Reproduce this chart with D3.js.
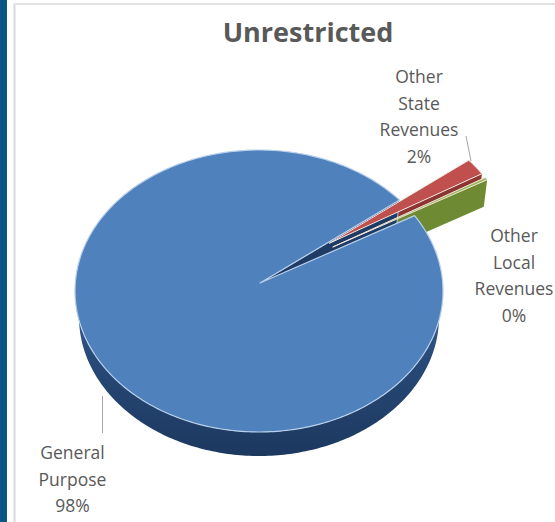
<!DOCTYPE html>
<html><head><meta charset="utf-8">
<script src="https://cdn.jsdelivr.net/npm/d3@7"></script>
<style>
html,body{margin:0;padding:0;background:#fff;}
svg{display:block;}
text{font-family:"Open Sans","Noto Sans",sans-serif;}
</style></head>
<body>
<svg id="chart" width="555" height="522"></svg>
<script>
// ---- data ----
const title = "Unrestricted";
const categories = ["General Purpose", "Other State Revenues", "Other Local Revenues"];
const labelLines = [["General", "Purpose"], ["Other", "State", "Revenues"], ["Other", "Local", "Revenues"]];
const values = [97.8, 1.9, 0.3];
const exploded = [false, true, true];
const topColors = ["#4f81bd", "#c0504d", "#9bbb59"];
const sideColors = ["#2b4e7e", "#8e3532", "#6e8b34"];

// ---- layout ----
const W = 555, H = 522;
const svg = d3.select("#chart");
const cx = 259, cy = 291, rx = 184, ry = 141, depth = 26;
const rxBottom = 180, ryBottom = 139;
const apexX = 260, apexY = 283;
const explodeFrac = 0.47;
const rad = Math.PI / 180;

// frame
svg.append("rect").attr("x", 0).attr("y", 0).attr("width", W).attr("height", H).attr("fill", "#fff");
svg.append("rect").attr("x", 0).attr("y", 0).attr("width", 7).attr("height", H).attr("fill", "#0b5587");
svg.append("line").attr("x1", 14.5).attr("x2", 14.5).attr("y1", 3).attr("y2", H).attr("stroke", "#d9d9d9").attr("stroke-width", 2);
svg.append("line").attr("x1", 14).attr("x2", W).attr("y1", 4).attr("y2", 4).attr("stroke", "#e3e3e3").attr("stroke-width", 2);

// title
svg.append("text").attr("x", 308).attr("y", 42).attr("text-anchor", "middle")
  .attr("font-size", 27).attr("font-weight", "bold").attr("fill", "#595959").text(title);

// pie angles (d3: 0 = 12 o'clock, clockwise)
const start = 57.7 * rad;
const pie = d3.pie().sort(null).value(d => d).startAngle(start).endAngle(start + 2 * Math.PI);
const arcs = pie(values).map((a, i) => {
  const p1 = a.startAngle - Math.PI / 2, p2 = a.endAngle - Math.PI / 2;
  const mid = (p1 + p2) / 2;
  const dx = exploded[i] ? explodeFrac * rx * Math.cos(mid) : 0;
  const dy = exploded[i] ? explodeFrac * ry * Math.sin(mid) : 0;
  return {i, p1, p2, dx, dy};
});

const line = d3.line();
function rim(p, s, z) {
  const ex = z > 0 ? rxBottom : rx, ey = z > 0 ? ryBottom : ry;
  return [cx + ex * Math.cos(p) + s.dx, cy + ey * Math.sin(p) + s.dy + z];
}
function apex(s, z) { return [apexX + s.dx, apexY + s.dy + z]; }
function arcPts(s, a, b, z) {
  const n = Math.max(2, Math.ceil(Math.abs(b - a) / rad));
  const pts = [];
  for (let k = 0; k <= n; k++) pts.push(rim(a + (b - a) * k / n, s, z));
  return pts;
}
function topPath(s) { return line([apex(s, 0), ...arcPts(s, s.p1, s.p2, 0)]) + "Z"; }
function radialWall(s, p) { return line([apex(s, 0), rim(p, s, 0), rim(p, s, depth), apex(s, depth)]) + "Z"; }
function outerWall(s) {
  const segs = [];
  for (let k = -1; k <= 1; k++) {
    const a = Math.max(s.p1, k * 2 * Math.PI), b = Math.min(s.p2, k * 2 * Math.PI + Math.PI);
    if (b > a) segs.push([a, b]);
  }
  return segs.map(([a, b]) => line([...arcPts(s, a, b, 0), ...arcPts(s, b, a, depth)]) + "Z");
}

const defs = svg.append("defs");
const g = defs.append("linearGradient").attr("id", "blueSide").attr("x1", 0).attr("y1", 0).attr("x2", 0).attr("y2", 1);
g.append("stop").attr("offset", "0%").attr("stop-color", "#3a6399");
g.append("stop").attr("offset", "40%").attr("stop-color", "#284a78");
g.append("stop").attr("offset", "100%").attr("stop-color", "#1c385f");

const pieG = svg.append("g");
const expl = arcs.filter(s => exploded[s.i]);
const main = arcs.filter(s => !exploded[s.i]);

// 1. walls of exploded slices
expl.forEach(s => {
  if (Math.cos(s.p2) > 0) pieG.append("path").attr("d", radialWall(s, s.p2)).attr("fill", sideColors[s.i]);
  if (Math.cos(s.p1) < 0) pieG.append("path").attr("d", radialWall(s, s.p1)).attr("fill", sideColors[s.i]);
  outerWall(s).forEach(d => pieG.append("path").attr("d", d).attr("fill", sideColors[s.i]));
});
// 2. walls of main slice
main.forEach(s => {
  if (Math.cos(s.p2) > 0) pieG.append("path").attr("d", radialWall(s, s.p2)).attr("fill", "#1f3c66")
    .attr("stroke", "#cfe0f3").attr("stroke-width", 0.8);
  outerWall(s).forEach(d => pieG.append("path").attr("d", d).attr("fill", "url(#blueSide)"));
});
// 3. tops
expl.forEach(s => {
  pieG.append("path").attr("d", topPath(s)).attr("fill", topColors[s.i])
    .attr("stroke", "#f3e6e0").attr("stroke-width", 1);
});
main.forEach(s => {
  pieG.append("path").attr("d", topPath(s)).attr("fill", topColors[s.i])
    .attr("stroke", "#b9cfea").attr("stroke-width", 1.2).attr("stroke-linejoin", "round");
});

// labels
const fmt = d3.format(".0%");
const total = d3.sum(values);
const labelPos = [{x: 72.5, y: 459}, {x: 419, y: 83}, {x: 514, y: 242}];
const lineH = 26.5;
labelLines.forEach((lines, i) => {
  const t = svg.append("text").attr("text-anchor", "middle").attr("font-size", 17.5).attr("fill", "#595959");
  [...lines, fmt(values[i] / total)].forEach((str, k) => {
    t.append("tspan").attr("x", labelPos[i].x).attr("y", labelPos[i].y + k * lineH).text(str);
  });
});
// leader lines
svg.append("line").attr("x1", 102.5).attr("x2", 102.5).attr("y1", 396).attr("y2", 433).attr("stroke", "#a6a6a6").attr("stroke-width", 1);
svg.append("line").attr("x1", 466).attr("x2", 471).attr("y1", 136).attr("y2", 161).attr("stroke", "#a6a6a6").attr("stroke-width", 1);
</script>
</body></html>
